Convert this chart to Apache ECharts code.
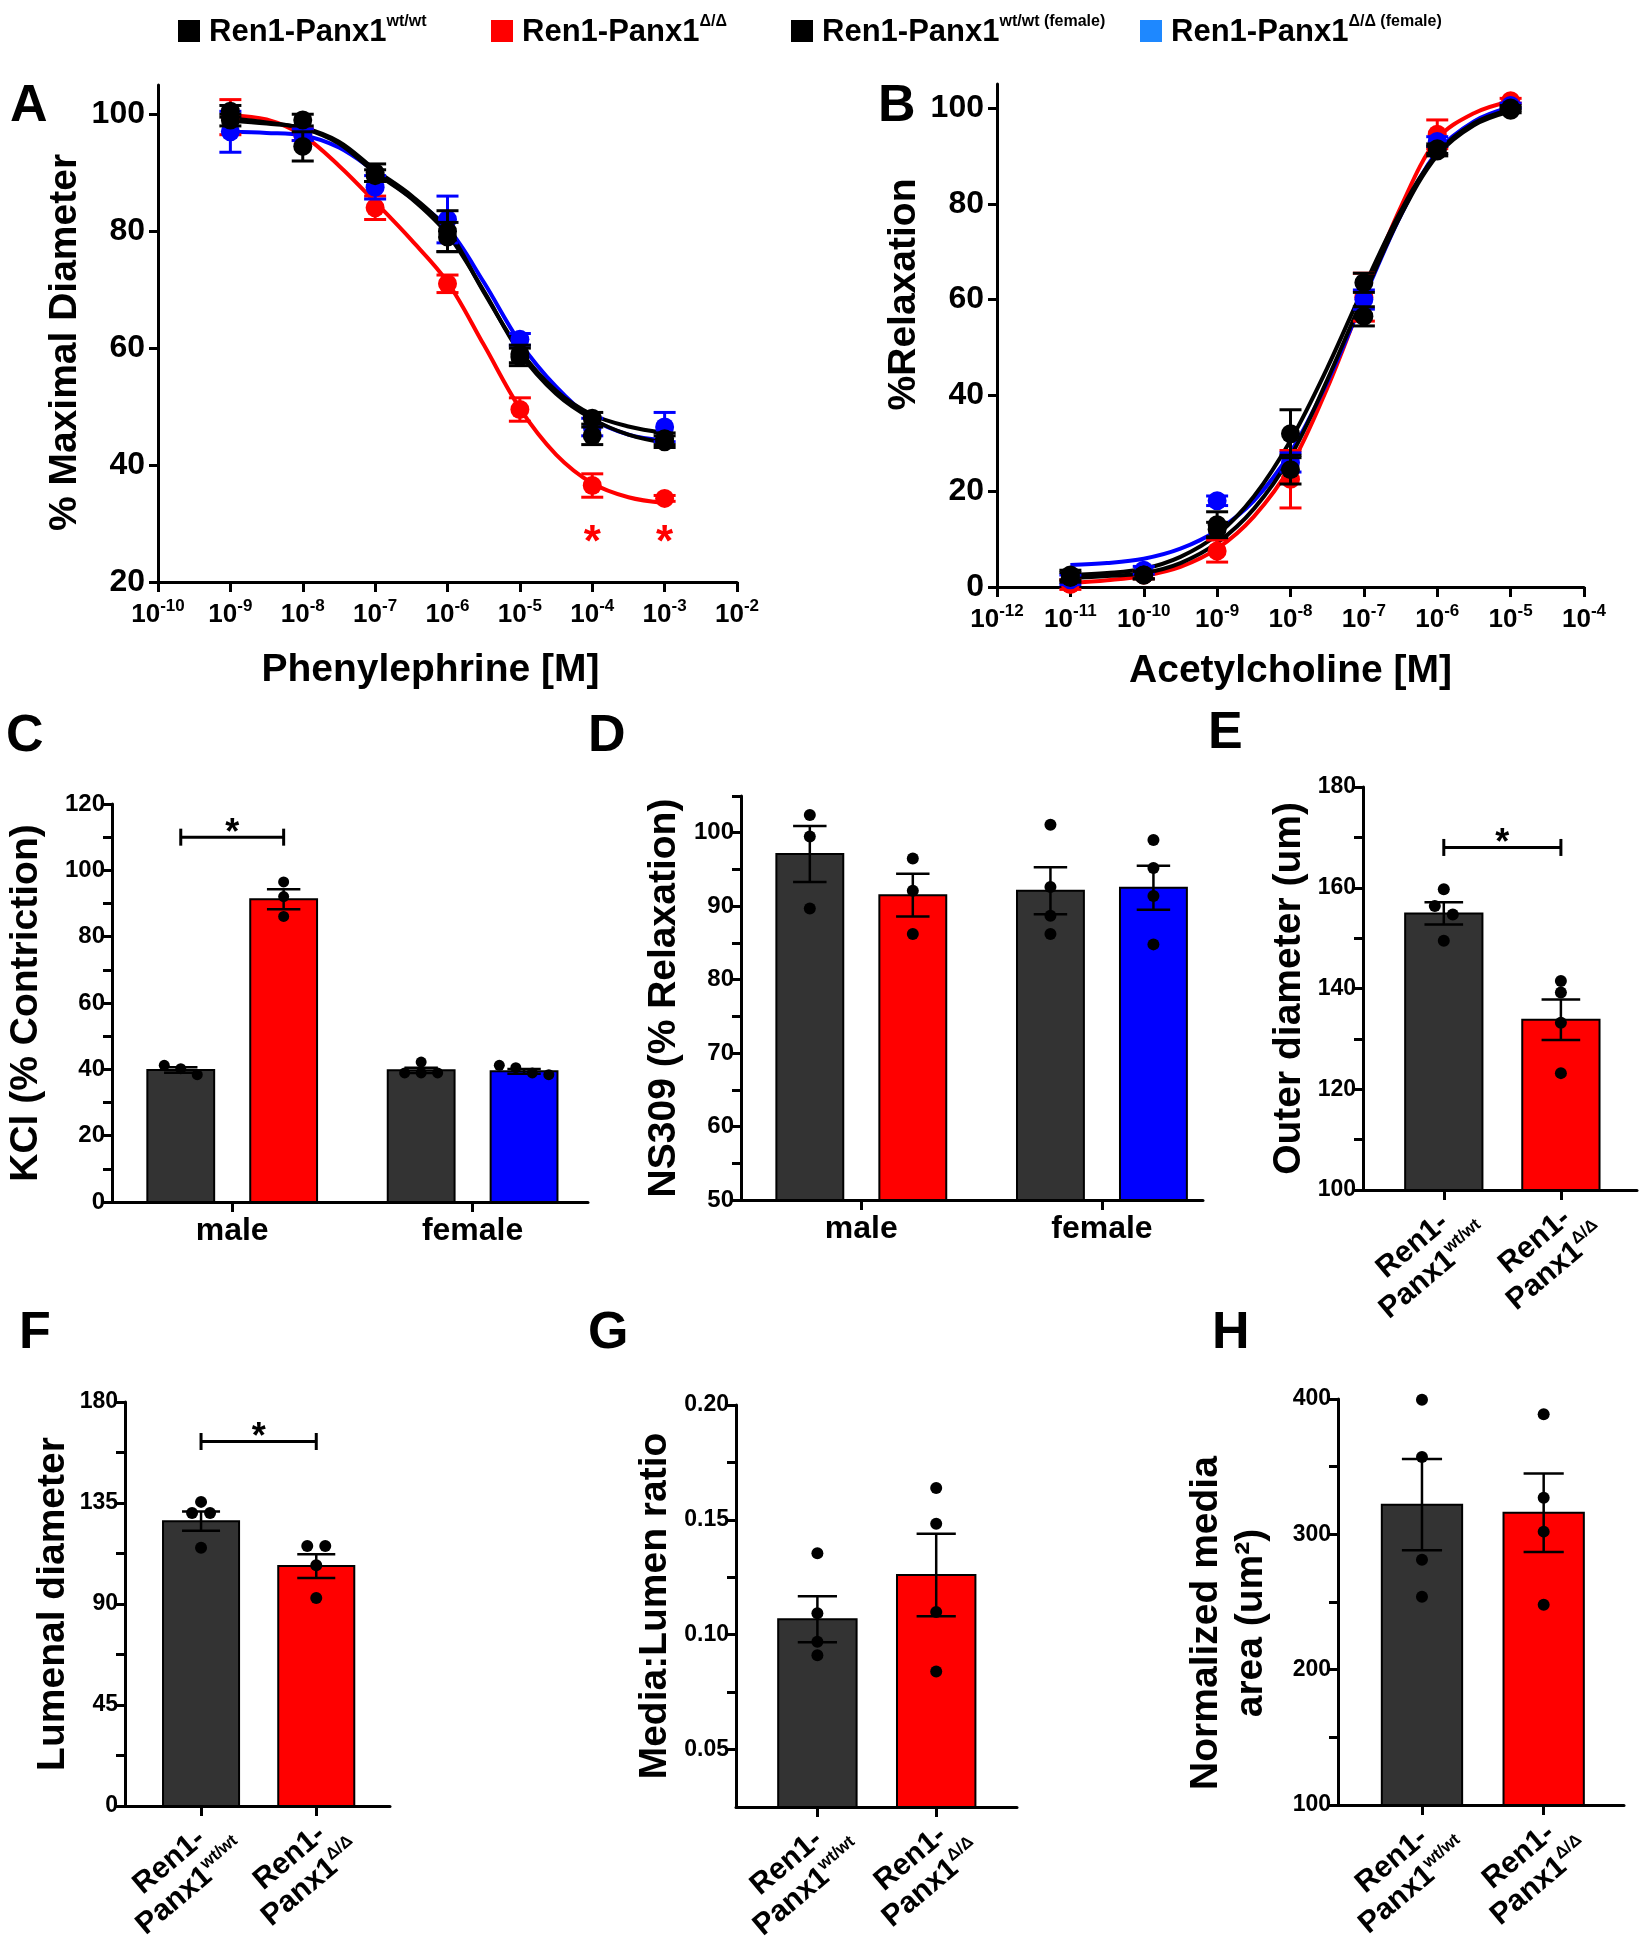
<!DOCTYPE html>
<html>
<head>
<meta charset="utf-8">
<script src="https://cdn.jsdelivr.net/npm/echarts@6.0.0/dist/echarts.min.js"></script>
<style>
html,body{margin:0;padding:0;background:#ffffff;}
#chart{width:1651px;height:1950px;}
</style>
</head>
<body>
<div id="chart"></div>
<script>
// ======================= DATA =======================
// Legend / groups
const legendBase = 'Ren1-Panx1';
const legendSup = ['wt/wt', 'Δ/Δ', 'wt/wt (female)', 'Δ/Δ (female)'];

// Panel A: Phenylephrine (log10 M)
const peLogConc = [-9, -8, -7, -6, -5, -4, -3];
const peWtMean  = [100.5, 99.0, 90.0, 80.0, 59.0, 45.0, 44.0];
const peWtSem   = [1.0, 1.0, 1.5, 3.5, 1.5, 1.5, 1.0];
const peKoMean  = [99.5, 96.5, 84.0, 71.0, 49.5, 36.5, 34.3];
const peKoSem   = [3.0, 1.0, 2.0, 1.5, 2.0, 2.0, 0.5];
const peWtFMean = [99.0, 94.5, 89.5, 79.0, 58.5, 48.0, 44.5];
const peWtFSem  = [1.0, 2.5, 1.0, 2.5, 1.5, 1.0, 1.0];
const peKoFMean = [97.0, 96.5, 87.5, 82.0, 61.5, 46.5, 46.5];
const peKoFSem  = [3.5, 1.0, 2.0, 4.0, 1.0, 1.5, 2.5];
const peCurveX   = [-9, -8.5, -8, -7.5, -7, -6.5, -6, -5.5, -5, -4.5, -4, -3.5, -3];
const peWtCurve  = [98.9, 98.4, 97.7, 95.3, 90.5, 86.1, 80.2, 69.6, 59.6, 52.7, 48.6, 46.6, 45.5];
const peKoCurve  = [99.8, 99.1, 96.4, 91.2, 85.0, 78.5, 71.3, 60.6, 49.7, 41.8, 36.9, 34.5, 33.5];
const peWtFCurve = [99.3, 98.6, 97.6, 95.0, 90.0, 85.6, 79.5, 69.8, 59.2, 52.2, 47.9, 45.2, 43.8];
const peKoFCurve = [97.0, 96.8, 96.4, 94.3, 90.2, 85.7, 80.6, 71.3, 61.0, 53.4, 47.9, 45.2, 44.2];
const peSigConc = [-4, -3];
const peSigY = 28;
const peXTicks = [-10, -9, -8, -7, -6, -5, -4, -3, -2];
const peYTicks = [20, 40, 60, 80, 100];

// Panel B: Acetylcholine (log10 M)
const achLogConc = [-11, -10, -9, -8, -7, -6, -5];
const achWtMean  = [2.0, 2.5, 13.0, 32.0, 63.5, 91.5, 100.0];
const achWtSem   = [1.0, 0.8, 2.7, 5.0, 2.0, 1.0, 0.5];
const achKoMean  = [0.5, 2.5, 7.5, 22.5, 60.5, 94.5, 101.5];
const achKoSem   = [1.0, 0.8, 2.3, 6.0, 5.0, 3.0, 0.5];
const achWtFMean = [2.5, 2.5, 12.0, 24.5, 56.5, 91.0, 99.5];
const achWtFSem  = [1.0, 0.8, 1.5, 3.0, 2.0, 1.0, 0.5];
const achKoFMean = [1.5, 3.5, 18.0, 26.0, 60.0, 93.0, 100.5];
const achKoFSem  = [1.0, 0.8, 1.0, 2.0, 2.0, 1.0, 0.5];
const achCurveX   = [-11, -10.5, -10, -9.5, -9, -8.5, -8, -7.5, -7, -6.5, -6, -5.5, -5];
const achWtCurve  = [2.5, 2.9, 3.8, 6.3, 10.9, 18.9, 30.6, 45.7, 62.6, 78.4, 90.5, 96.8, 99.7];
const achKoCurve  = [0.8, 1.4, 2.3, 4.2, 8.0, 14.7, 25.2, 41.5, 60.8, 79.2, 93.5, 98.9, 101.4];
const achWtFCurve = [1.9, 2.3, 2.9, 5.0, 9.2, 16.3, 27.2, 43.2, 60.8, 77.5, 90.1, 96.4, 99.3];
const achKoFCurve = [4.6, 5.0, 5.9, 8.0, 11.8, 18.0, 28.1, 42.7, 60.3, 77.5, 90.9, 97.2, 100.2];
const achXTicks = [-12, -11, -10, -9, -8, -7, -6, -5, -4];
const achYTicks = [0, 20, 40, 60, 80, 100];

// Panel C: KCl (% Contriction)  [male, female]
const sexGroups = ['male', 'female'];
const kclWtMean = [39.8, 39.7];
const kclWtSem  = [0.8, 0.8];
const kclKoMean = [91.3, 39.4];
const kclKoSem  = [3.0, 0.7];
const kclWtPts  = [[38.4, 41.2, 40.2], [42.2, 38.9, 38.9, 38.9]];
const kclKoPts  = [[96.5, 92.1, 86.1], [38.4, 41.2, 38.9, 40.5]];
const kclSigY = 110;
const kclYTicks  = [0, 10, 20, 30, 40, 50, 60, 70, 80, 90, 100, 110, 120];
const kclYLabels = [0, 20, 40, 60, 80, 100, 120];

// Panel D: NS309 (% Relaxation)
const nsWtMean = [97.1, 92.1];
const nsWtSem  = [3.8, 3.2];
const nsKoMean = [91.5, 92.5];
const nsKoSem  = [2.9, 3.0];
const nsWtPts  = [[102.4, 99.5, 89.7], [101.1, 92.6, 88.7, 86.2]];
const nsKoPts  = [[96.5, 92.1, 86.2], [99.0, 95.2, 91.4, 84.8]];
const nsYTicks  = [50, 55, 60, 65, 70, 75, 80, 85, 90, 95, 100, 105];
const nsYLabels = [50, 60, 70, 80, 90, 100];

// Genotype categories for E-H
const genoLines = [['Ren1-', 'Panx1', 'wt/wt'], ['Ren1-', 'Panx1', 'Δ/Δ']];

// Panel E: Outer diameter (um)
const outerMean = [154.9, 133.8];
const outerSem  = [2.2, 4.0];
const outerPts  = [[159.7, 156.4, 154.7, 149.5], [141.5, 139.2, 133.2, 123.2]];
const outerSigY = 168;
const outerYTicks  = [100, 110, 120, 130, 140, 150, 160, 170, 180];
const outerYLabels = [100, 120, 140, 160, 180];

// Panel F: Lumenal diameter
const lumenMean = [126.9, 106.9];
const lumenSem  = [4.3, 5.3];
const lumenPts  = [[135.5, 130.5, 130.5, 115.1], [115.8, 115.8, 107.3, 92.7]];
const lumenSigY = 162.4;
const lumenYTicks  = [0, 22.5, 45, 67.5, 90, 112.5, 135, 157.5, 180];
const lumenYLabels = [0, 45, 90, 135, 180];

// Panel G: Media:Lumen ratio
const ratioMean = [0.1067, 0.126];
const ratioSem  = [0.010, 0.018];
const ratioPts  = [[0.1355, 0.1093, 0.0969, 0.0911], [0.1639, 0.1483, 0.1099, 0.084]];
const ratioYTicks  = [0.05, 0.075, 0.1, 0.125, 0.15, 0.175, 0.2];
const ratioYLabels = [0.05, 0.1, 0.15, 0.2];

// Panel H: Normalized media area (um2)
const mediaMean = [321.9, 315.9];
const mediaSem  = [33.7, 29.0];
const mediaPts  = [[399.4, 357.2, 281.2, 253.8], [388.8, 327.0, 302.0, 248.0]];
const mediaYTicks  = [100, 150, 200, 250, 300, 350, 400];
const mediaYLabels = [100, 200, 300, 400];

// ======================= STYLE / LAYOUT =======================
const FONT = '"Liberation Sans", Arial, Helvetica, sans-serif';
const BLACK = '#000000', RED = '#ff0000', BLUE = '#0000ff', BAR_GRAY = '#333333';
const groupNames = legendSup.map(s => legendBase + ' ' + s);
const groupColors = [BLACK, RED, BLACK, BLUE];
const legendIconColors = [BLACK, RED, BLACK, '#1e88ff'];
const legendLefts = [178, 491, 791, 1140];

const grids = [
  {left: 158, top: 85, width: 579, height: 497},    // A
  {left: 997, top: 84, width: 587, height: 503},    // B
  {left: 112, top: 804, width: 476, height: 398},   // C
  {left: 741, top: 796, width: 462, height: 404},   // D
  {left: 1363, top: 787, width: 274, height: 403},  // E
  {left: 125, top: 1402, width: 265, height: 404},  // F
  {left: 736, top: 1405, width: 281, height: 402},  // G
  {left: 1338, top: 1399, width: 286, height: 406}  // H
];

const AXIS_LINE = {show: true, onZero: false, lineStyle: {color: '#000', width: 3}};
function titleStyle(padding) {
  return {fontFamily: FONT, fontWeight: 'bold', fontSize: 39, color: '#000', lineHeight: 45, padding: padding || 0};
}

function supRich(base, sup) {
  return {
    b: {fontFamily: FONT, fontWeight: 'bold', fontSize: base, color: '#000', lineHeight: base + 4, verticalAlign: 'bottom'},
    s: {fontFamily: FONT, fontWeight: 'bold', fontSize: sup, color: '#000', lineHeight: sup - 2, verticalAlign: 'top'}
  };
}

function logXAxis(gi, min, max, ticks, name, nameGap, namePad) {
  return {
    type: 'value', gridIndex: gi, min: min, max: max,
    axisLine: AXIS_LINE,
    axisTick: {show: true, length: 10, customValues: ticks, lineStyle: {color: '#000', width: 3}},
    axisLabel: {customValues: ticks, margin: 16, formatter: v => '{b|10}{s|' + v + '}', rich: supRich(26, 17)},
    splitLine: {show: false},
    name: name, nameLocation: 'middle', nameGap: nameGap, nameTextStyle: titleStyle(namePad)
  };
}

function yAx(gi, min, max, ticks, labels, fontSize, margin, fmt, name, nameGap, namePad) {
  return {
    type: 'value', gridIndex: gi, min: min, max: max,
    axisLine: AXIS_LINE,
    axisTick: {show: true, length: 9, customValues: ticks, lineStyle: {color: '#000', width: 3}},
    axisLabel: {customValues: labels, fontSize: fontSize, fontWeight: 'bold', fontFamily: FONT, color: '#000', margin: margin, formatter: fmt},
    splitLine: {show: false},
    name: name, nameLocation: 'middle', nameGap: nameGap, nameTextStyle: titleStyle(namePad)
  };
}

// grouped bar panels (C, D): group centers at 1, 2
const GROUP_OFF = 0.214, GROUP_BAR_W = 0.278;
function sexXAxis(gi, min, max) {
  const centers = sexGroups.map((g, i) => i + 1);
  return {
    type: 'value', gridIndex: gi, min: min, max: max,
    axisLine: AXIS_LINE,
    axisTick: {show: true, length: 10, customValues: centers, lineStyle: {color: '#000', width: 3}},
    axisLabel: {customValues: centers, margin: 13, fontSize: 32, fontWeight: 'bold', fontFamily: FONT, color: '#000',
      formatter: v => sexGroups[Math.round(v) - 1]},
    splitLine: {show: false}
  };
}

// two-genotype panels (E-H): bars at 1, 2
const GENO_BAR_W = 0.66, GENO_LABEL_SHIFT = 0.25;
function genoXAxis(gi, min, max) {
  const centers = genoLines.map((g, i) => i + 1);
  const labelPos = centers.map(c => c + GENO_LABEL_SHIFT);
  const rich = {
    a: {fontFamily: FONT, fontWeight: 'bold', fontSize: 30, color: '#000', lineHeight: 32, align: 'center'},
    b: {fontFamily: FONT, fontWeight: 'bold', fontSize: 30, color: '#000', lineHeight: 32, align: 'center', verticalAlign: 'bottom'},
    s: {fontFamily: FONT, fontWeight: 'bold', fontSize: 17, color: '#000', lineHeight: 15, align: 'center', verticalAlign: 'top'}
  };
  return {
    type: 'value', gridIndex: gi, min: min, max: max,
    axisLine: AXIS_LINE,
    axisTick: {show: true, length: 10, customValues: centers, lineStyle: {color: '#000', width: 3}},
    axisLabel: {customValues: labelPos, rotate: 40, margin: 26, rich: rich,
      formatter: v => { const g = genoLines[Math.round(v - GENO_LABEL_SHIFT) - 1]; return '{a|' + g[0] + '}\n{b|' + g[1] + '}{s|' + g[2] + '}'; }},
    splitLine: {show: false}
  };
}

// ======================= RENDERERS =======================
function doseItem(color) {
  return function (params, api) {
    const x = api.value(0), m = api.value(1), s = api.value(2);
    const p = api.coord([x, m]);
    const hi = api.coord([x, m + s]);
    const lo = api.coord([x, m - s]);
    const cw = 11;
    const ls = {stroke: color, lineWidth: 3};
    return {type: 'group', children: [
      {type: 'line', shape: {x1: p[0], y1: hi[1], x2: p[0], y2: lo[1]}, style: ls},
      {type: 'line', shape: {x1: p[0] - cw, y1: hi[1], x2: p[0] + cw, y2: hi[1]}, style: ls},
      {type: 'line', shape: {x1: p[0] - cw, y1: lo[1], x2: p[0] + cw, y2: lo[1]}, style: ls},
      {type: 'circle', shape: {cx: p[0], cy: p[1], r: 9.5}, style: {fill: color}}
    ]};
  };
}

function doseSeries(gi, conc, means, sems, curveX, curves) {
  const order = [1, 3, 2, 0];
  const out = [];
  order.forEach(k => {
    out.push({type: 'line', name: groupNames[k], xAxisIndex: gi, yAxisIndex: gi, silent: true,
      data: curveX.map((x, j) => [x, curves[k][j]]), smooth: 0.35, showSymbol: false, symbol: 'none',
      lineStyle: {color: groupColors[k], width: 4}, itemStyle: {color: groupColors[k]}, z: 2});
  });
  order.forEach(k => {
    out.push({type: 'custom', name: groupNames[k], xAxisIndex: gi, yAxisIndex: gi, silent: true,
      data: conc.map((x, j) => [x, means[k][j], sems[k][j]]), encode: {x: 0, y: 1},
      itemStyle: {color: groupColors[k]}, renderItem: doseItem(groupColors[k]), z: 3});
  });
  return out;
}

// deterministic horizontal spread for overlapping dots (Prism-like scatter)
function swarm(ys, dotD, spacing) {
  const idx = ys.map((y, i) => i).sort((a, b) => ys[a] - ys[b]);
  const offs = new Array(ys.length).fill(0);
  let cluster = [idx[0]];
  const flush = () => { const n = cluster.length; cluster.forEach((k, j) => { offs[k] = (j - (n - 1) / 2) * spacing; }); };
  for (let i = 1; i < idx.length; i++) {
    if (ys[idx[i]] - ys[cluster[cluster.length - 1]] < dotD * 0.9) cluster.push(idx[i]);
    else { flush(); cluster = [idx[i]]; }
  }
  flush();
  return offs;
}

function barSeries(gi, bars, yMin, dotR) {
  return {
    type: 'custom', xAxisIndex: gi, yAxisIndex: gi, silent: true, z: 2,
    data: bars.map((b, i) => [b.x, b.mean, b.sem, i]),
    encode: {x: 0, y: 1},
    renderItem: function (params, api) {
      const b = bars[api.value(3)];
      const tl = api.coord([b.x - b.w / 2, b.mean]);
      const br = api.coord([b.x + b.w / 2, yMin]);
      const c = api.coord([b.x, b.mean]);
      const hi = api.coord([b.x, b.mean + b.sem]);
      const lo = api.coord([b.x, b.mean - b.sem]);
      const barPx = br[0] - tl[0];
      const cap = barPx * 0.25;
      const ls = {stroke: '#000', lineWidth: 2.5};
      const children = [
        {type: 'rect', shape: {x: tl[0], y: tl[1], width: barPx, height: br[1] - tl[1]}, style: {fill: b.color, stroke: '#000', lineWidth: 2}}
      ];
      children.push({type: 'line', shape: {x1: c[0], y1: hi[1], x2: c[0], y2: lo[1]}, style: ls});
      children.push({type: 'line', shape: {x1: c[0] - cap, y1: hi[1], x2: c[0] + cap, y2: hi[1]}, style: ls});
      children.push({type: 'line', shape: {x1: c[0] - cap, y1: lo[1], x2: c[0] + cap, y2: lo[1]}, style: ls});
      const ys = b.pts.map(v => api.coord([b.x, v])[1]);
      const offs = swarm(ys, dotR * 2, dotR * 3);
      ys.forEach((y, j) => children.push({type: 'circle', shape: {cx: c[0] + offs[j], cy: y, r: dotR}, style: {fill: '#000'}}));
      return {type: 'group', children: children};
    }
  };
}

function sigSeries(gi, x1, x2, y) {
  return {
    type: 'custom', xAxisIndex: gi, yAxisIndex: gi, silent: true, z: 5,
    data: [[x1, y, x2]], encode: {x: [0, 2], y: 1},
    renderItem: function (params, api) {
      const a = api.coord([api.value(0), api.value(1)]);
      const b = api.coord([api.value(2), api.value(1)]);
      const h = 8.5;
      const ls = {stroke: '#000', lineWidth: 3};
      return {type: 'group', children: [
        {type: 'line', shape: {x1: a[0], y1: a[1], x2: b[0], y2: b[1]}, style: ls},
        {type: 'line', shape: {x1: a[0], y1: a[1] - h, x2: a[0], y2: a[1] + h}, style: ls},
        {type: 'line', shape: {x1: b[0], y1: b[1] - h, x2: b[0], y2: b[1] + h}, style: ls},
        {type: 'text', x: (a[0] + b[0]) / 2, y: a[1] - 3, style: {text: '*', fill: '#000', font: 'bold 36px ' + FONT, align: 'center', verticalAlign: 'middle'}}
      ]};
    }
  };
}

// ======================= BUILD =======================
const koColors = [RED, BLUE];
function sexBars(wtM, wtS, wtP, koM, koS, koP) {
  const bars = [];
  sexGroups.forEach((g, i) => {
    bars.push({x: i + 1 - GROUP_OFF, w: GROUP_BAR_W, mean: wtM[i], sem: wtS[i], pts: wtP[i], color: BAR_GRAY});
    bars.push({x: i + 1 + GROUP_OFF, w: GROUP_BAR_W, mean: koM[i], sem: koS[i], pts: koP[i], color: koColors[i]});
  });
  return bars;
}
function genoBars(m, s, p) {
  return genoLines.map((g, i) => ({x: i + 1, w: GENO_BAR_W, mean: m[i], sem: s[i], pts: p[i], color: i === 0 ? BAR_GRAY : RED}));
}

const kclBars = sexBars(kclWtMean, kclWtSem, kclWtPts, kclKoMean, kclKoSem, kclKoPts);
const nsBars = sexBars(nsWtMean, nsWtSem, nsWtPts, nsKoMean, nsKoSem, nsKoPts);
const outerBars = genoBars(outerMean, outerSem, outerPts);
const lumenBars = genoBars(lumenMean, lumenSem, lumenPts);
const ratioBars = genoBars(ratioMean, ratioSem, ratioPts);
const mediaBars = genoBars(mediaMean, mediaSem, mediaPts);

const series = [].concat(
  doseSeries(0, peLogConc, [peWtMean, peKoMean, peWtFMean, peKoFMean], [peWtSem, peKoSem, peWtFSem, peKoFSem],
    peCurveX, [peWtCurve, peKoCurve, peWtFCurve, peKoFCurve]),
  [{
    type: 'custom', xAxisIndex: 0, yAxisIndex: 0, silent: true, z: 5,
    data: peSigConc.map(x => [x, peSigY]), encode: {x: 0, y: 1},
    renderItem: function (params, api) {
      const c = api.coord([api.value(0), api.value(1)]);
      return {type: 'text', x: c[0], y: c[1] + 9, style: {text: '*', fill: RED, font: 'bold 44px ' + FONT, align: 'center', verticalAlign: 'middle'}};
    }
  }],
  doseSeries(1, achLogConc, [achWtMean, achKoMean, achWtFMean, achKoFMean], [achWtSem, achKoSem, achWtFSem, achKoFSem],
    achCurveX, [achWtCurve, achKoCurve, achWtFCurve, achKoFCurve]),
  [
    barSeries(2, kclBars, 0, 5.5),
    sigSeries(2, kclBars[0].x, kclBars[1].x, kclSigY),
    barSeries(3, nsBars, 50, 6),
    barSeries(4, outerBars, 100, 6),
    sigSeries(4, outerBars[0].x, outerBars[1].x, outerSigY),
    barSeries(5, lumenBars, 0, 6),
    sigSeries(5, lumenBars[0].x, lumenBars[1].x, lumenSigY),
    barSeries(6, ratioBars, 0.025, 6),
    barSeries(7, mediaBars, 100, 6)
  ]
);

const legendRich = {
  b: {fontFamily: FONT, fontWeight: 'bold', fontSize: 31, color: '#000', lineHeight: 34, verticalAlign: 'bottom', padding: [0, 0, 0, 4]},
  s: {fontFamily: FONT, fontWeight: 'bold', fontSize: 16, color: '#000', lineHeight: 16, verticalAlign: 'top'}
};
const legends = groupNames.map((n, i) => ({
  show: true,
  data: [{name: n, icon: 'rect', itemStyle: {color: legendIconColors[i], borderWidth: 0}}],
  left: legendLefts[i], top: 14, padding: 0, itemWidth: 22, itemHeight: 22, selectedMode: false,
  formatter: () => '{b|' + legendBase + '}{s|' + legendSup[i] + '}',
  textStyle: {rich: legendRich}
}));

const letters = [['A', 10, 81], ['B', 878, 81], ['C', 6, 711], ['D', 588, 711], ['E', 1208, 708], ['F', 19, 1308], ['G', 588, 1308], ['H', 1212, 1308]];

const option = {
  animation: false,
  backgroundColor: '#ffffff',
  textStyle: {fontFamily: FONT},
  grid: grids,
  legend: legends,
  xAxis: [
    logXAxis(0, -10, -2, peXTicks, 'Phenylephrine [M]', 66, [0, 34, 0, 0]),
    logXAxis(1, -12, -4, achXTicks, 'Acetylcholine [M]', 62, 0),
    sexXAxis(2, 0.5, 2.48),
    sexXAxis(3, 0.5, 2.42),
    genoXAxis(4, 0.31, 2.65),
    genoXAxis(5, 0.34, 2.64),
    genoXAxis(6, 0.315, 2.68),
    genoXAxis(7, 0.31, 2.66)
  ],
  yAxis: [
    yAx(0, 20, 105, peYTicks, peYTicks, 32, 13, null, '% Maximal Diameter', 64, [0, 18, 0, 0]),
    yAx(1, 0, 105, achYTicks, achYTicks, 32, 13, null, '%Relaxation', 60, [0, 0, 0, 82]),
    yAx(2, 0, 120, kclYTicks, kclYLabels, 24, 7, null, 'KCl (% Contriction)', 63, 0),
    yAx(3, 50, 105, nsYTicks, nsYLabels, 24, 7, null, 'NS309 (% Relaxation)', 54, 0),
    yAx(4, 100, 180, outerYTicks, outerYLabels, 23, 7, null, 'Outer diameter (um)', 51, 0),
    yAx(5, 0, 180, lumenYTicks, lumenYLabels, 23, 7, null, 'Lumenal diameter', 47, 0),
    yAx(6, 0.025, 0.2, ratioYTicks, ratioYLabels, 23, 7, v => Number(v).toFixed(2), 'Media:Lumen ratio', 58, 0),
    yAx(7, 100, 400, mediaYTicks, mediaYLabels, 23, 7, null, 'Normalized media\narea (um²)', 64, [0, 42, 0, 0])
  ],
  series: series,
  graphic: letters.map(l => ({type: 'text', left: l[1], top: l[2], style: {text: l[0], font: 'bold 52px ' + FONT, fill: '#000'}}))
};

const chart = echarts.init(document.getElementById('chart'), null, {renderer: 'canvas'});
chart.setOption(option);
</script>
</body>
</html>
